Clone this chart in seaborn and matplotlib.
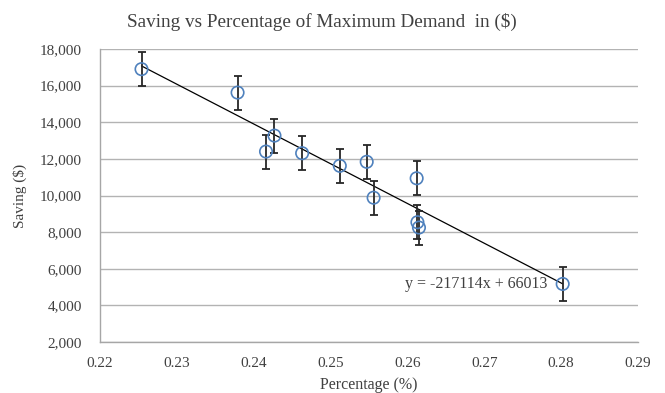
import numpy as np
import pandas as pd
import matplotlib
matplotlib.use("Agg")
import matplotlib.pyplot as plt
import seaborn as sns
from matplotlib.ticker import FuncFormatter

# ---- data ----
percentage = [0.2254, 0.2379, 0.2416, 0.2427, 0.2463, 0.2512,
              0.2547, 0.2556, 0.2612, 0.2613, 0.2615, 0.2802]
saving = [16900, 15620, 12400, 13270, 12310, 11620,
          11840, 9880, 10940, 8540, 8250, 5170]
saving_err = [930] * len(saving)

trend_slope = -217114
trend_intercept = 66013
equation_label = "y = -217114x + 66013"

title = "Saving vs Percentage of Maximum Demand  in ($)"
xlabel = "Percentage (%)"
ylabel = "Saving ($)"
xticks = [0.22, 0.23, 0.24, 0.25, 0.26, 0.27, 0.28, 0.29]
yticks = [2000, 4000, 6000, 8000, 10000, 12000, 14000, 16000, 18000]

df = pd.DataFrame({"Percentage": percentage, "Saving": saving, "err": saving_err})

sns.set_theme(style="white")
plt.rcParams["font.family"] = ["Liberation Serif", "DejaVu Serif"]
text_color = "#404040"

fig = plt.figure(figsize=(6.65, 3.93), dpi=100)
ax = fig.add_axes([100 / 665, 1 - 342 / 393, 538 / 665, 293 / 393])

# trend line
tx = np.array([min(percentage), max(percentage)])
trend_df = pd.DataFrame({"x": tx, "y": trend_slope * tx + trend_intercept})
sns.lineplot(data=trend_df, x="x", y="y", ax=ax, color="black", linewidth=0.9, zorder=3)

# error bars
ax.errorbar(df["Percentage"], df["Saving"], yerr=df["err"], fmt="none",
            ecolor="#262626", elinewidth=1.3, capsize=2.8, capthick=1.3, zorder=4)

# points
sns.scatterplot(data=df, x="Percentage", y="Saving", ax=ax, s=80,
                facecolor="none", edgecolor="#4F81BD", linewidth=1.2, zorder=5)

ax.text(0.2782, 5170, equation_label, ha="right", va="center",
        fontsize=11.5, color=text_color)

ax.set_xlim(0.22, 0.29)
ax.set_ylim(2000, 18000)
ax.set_xticks(xticks)
ax.set_yticks(yticks)
ax.xaxis.set_major_formatter(FuncFormatter(lambda v, p: f"{v:.2f}"))
ax.yaxis.set_major_formatter(FuncFormatter(lambda v, p: f"{int(round(v)):,}"))
ax.grid(axis="y", color="#b3b3b3", linewidth=1.0)
ax.grid(axis="x", visible=False)
ax.set_axisbelow(True)
for s in ["top", "right"]:
    ax.spines[s].set_visible(False)
for s in ["left", "bottom"]:
    ax.spines[s].set_color("#a6a6a6")
    ax.spines[s].set_linewidth(1.0)
ax.tick_params(axis="both", length=0, labelsize=11, colors=text_color)
ax.tick_params(axis="y", pad=13)
ax.tick_params(axis="x", pad=11)

ax.set_xlabel(xlabel, fontsize=11.5, color=text_color)
ax.set_ylabel(ylabel, fontsize=11, color=text_color)
ax.xaxis.set_label_coords(0.5, -0.118)
ax.yaxis.set_label_coords(-0.135, 0.5)

fig.text(322 / 665, 1 - 22 / 393, title, ha="center", va="center",
         fontsize=13.8, color=text_color)

fig.savefig("out.png", dpi=100, facecolor="white")
